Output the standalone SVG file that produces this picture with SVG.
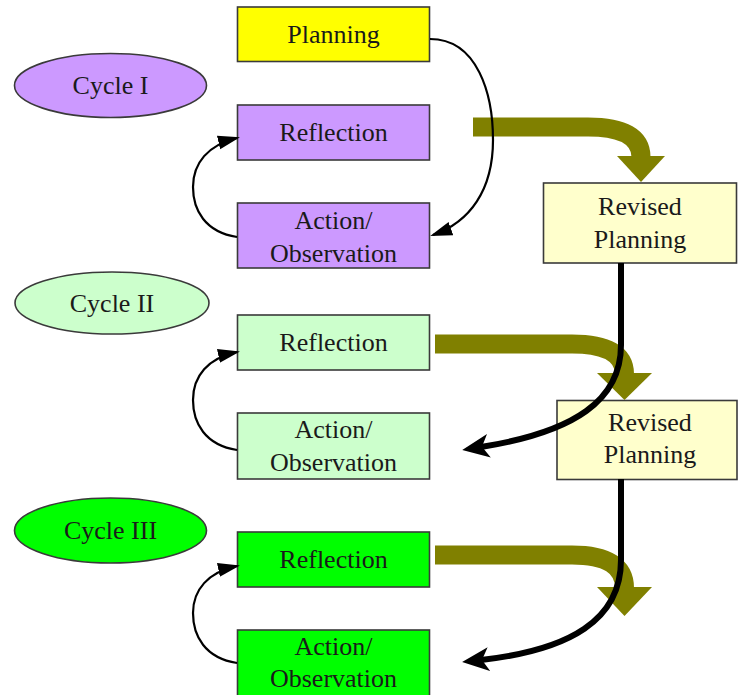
<svg xmlns="http://www.w3.org/2000/svg" width="738" height="695" viewBox="0 0 738 695">
<defs>
<style>
.box{stroke:#3a3a3a;stroke-width:1.6}
.ell{stroke:#3a3a3a;stroke-width:1.6}
.t{font-family:"Liberation Serif","Times New Roman",serif;font-size:26px;fill:#1a1a1a;text-anchor:middle}
.p{fill:#cc99ff}.lg{fill:#ccffcc}.g{fill:#00ff00}.y{fill:#ffff00}.ry{fill:#ffffcc}
.olive{fill:none;stroke:#808000;stroke-width:19}
.olh{fill:#808000}
.thick{fill:none;stroke:#000;stroke-width:6}
.thin{fill:none;stroke:#000;stroke-width:2.2}
</style>
<marker id="ah" markerUnits="userSpaceOnUse" markerWidth="22" markerHeight="16" refX="19" refY="7" orient="auto" viewBox="0 0 22 16">
<path d="M0,0 L22,7 L0,14 z" fill="#000"/>
</marker>
<marker id="bh" markerUnits="userSpaceOnUse" markerWidth="30" markerHeight="26" refX="8" refY="12" orient="auto" viewBox="0 0 30 26">
<path d="M0,0 L27,12 L0,24 L7,12 z" fill="#000"/>
</marker>
</defs>
<rect width="738" height="695" fill="#fff"/>
<g id="nodes">
<g id="planning"><rect class="box y" x="237.5" y="7" width="192" height="54.5"/><text class="t" x="333.5" y="43">Planning</text></g>
<g id="cycle1"><ellipse class="ell p" cx="110.5" cy="85.5" rx="96" ry="32"/><text class="t" x="110.5" y="94">Cycle I</text></g>
<g id="reflection1"><rect class="box p" x="237.5" y="105" width="192" height="55"/><text class="t" x="333.5" y="141">Reflection</text></g>
<g id="action1"><rect class="box p" x="237.5" y="203" width="192" height="65"/><text class="t" x="333.5" y="229">Action/</text><text class="t" x="333.5" y="262">Observation</text></g>
<g id="revised1"><rect class="box ry" x="543.5" y="183" width="193" height="80"/><text class="t" x="640" y="215">Revised</text><text class="t" x="640" y="248">Planning</text></g>
<g id="cycle2"><ellipse class="ell lg" cx="112" cy="303" rx="97" ry="31"/><text class="t" x="112" y="312">Cycle II</text></g>
<g id="reflection2"><rect class="box lg" x="237.5" y="315" width="192" height="55"/><text class="t" x="333.5" y="351">Reflection</text></g>
<g id="action2"><rect class="box lg" x="237.5" y="413" width="192" height="66"/><text class="t" x="333.5" y="438">Action/</text><text class="t" x="333.5" y="471">Observation</text></g>
<g id="revised2"><rect class="box ry" x="557" y="400.5" width="180" height="79"/><text class="t" x="650" y="431">Revised</text><text class="t" x="650" y="463">Planning</text></g>
<g id="cycle3"><ellipse class="ell g" cx="110.5" cy="530.5" rx="96" ry="32.5"/><text class="t" x="110.5" y="539">Cycle III</text></g>
<g id="reflection3"><rect class="box g" x="237.5" y="532" width="192" height="55"/><text class="t" x="333.5" y="568">Reflection</text></g>
<g id="action3"><rect class="box g" x="237.5" y="630" width="192" height="70"/><text class="t" x="333.5" y="655">Action/</text><text class="t" x="333.5" y="687">Observation</text></g>
</g>
<g id="connectors">
<path class="olive" d="M473,127 L588,127 Q641,127 641,157"/>
<polygon class="olh" points="617,156 665,156 641,182"/>
<path class="olive" d="M435,344 L572,344 Q624.5,344 624.5,374"/>
<polygon class="olh" points="597,373 652,373 624.5,400"/>
<path class="olive" d="M435,555 L572,555 Q624.5,555 624.5,588"/>
<polygon class="olh" points="597,587 652,587 624.5,616"/>
<path class="thick" d="M621,263 L621,345 C621,400 575,432 481,447" marker-end="url(#bh)"/>
<path class="thick" d="M621,479 L621,560 C621,620 570,650 481,660" marker-end="url(#bh)"/>
<path class="thin" d="M430,39 C478,39 493,95 493,140 C493,190 470,222 433,235" marker-end="url(#ah)"/>
<path class="thin" d="M237,237 C205,232 193,210 193,187 C193,163 208,145 237,138" marker-end="url(#ah)"/>
<path class="thin" d="M237,450 C205,445 193,423 193,400 C193,376 208,358 237,352" marker-end="url(#ah)"/>
<path class="thin" d="M237,663 C205,658 193,636 193,613 C193,590 208,572 237,566" marker-end="url(#ah)"/>
</g>
</svg>
